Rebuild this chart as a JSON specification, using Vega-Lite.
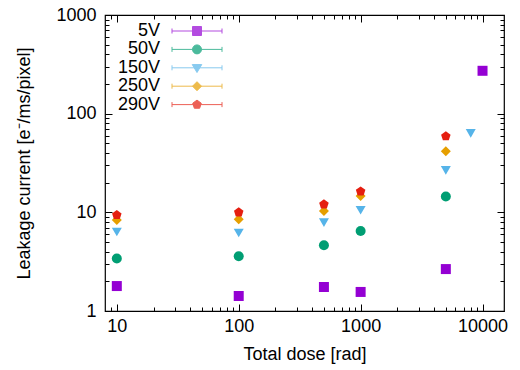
{
  "$schema": "https://vega.github.io/schema/vega-lite/v6.json",
  "autosize": "none",
  "width": 399,
  "height": 296,
  "padding": {"left": 105, "top": 15, "right": 16, "bottom": 59},
  "background": "white",
  "config": {
    "font": "Liberation Sans",
    "view": {"stroke": "black", "strokeWidth": 1.2},
    "axis": {
      "grid": false,
      "domain": false,
      "tickColor": "black",
      "labelColor": "black",
      "titleColor": "black",
      "labelFontSize": 18,
      "titleFontSize": 18,
      "titleFontWeight": "normal",
      "labelFont": "Liberation Sans",
      "titleFont": "Liberation Sans"
    }
  },
  "datasets": {
    "pts": [
      {"dose": 10, "current": 1.79, "bias": "5V"},
      {"dose": 100, "current": 1.42, "bias": "5V"},
      {"dose": 500, "current": 1.75, "bias": "5V"},
      {"dose": 1000, "current": 1.56, "bias": "5V"},
      {"dose": 5000, "current": 2.66, "bias": "5V"},
      {"dose": 10000, "current": 272, "bias": "5V"},
      {"dose": 10, "current": 3.41, "bias": "50V"},
      {"dose": 100, "current": 3.59, "bias": "50V"},
      {"dose": 500, "current": 4.64, "bias": "50V"},
      {"dose": 1000, "current": 6.47, "bias": "50V"},
      {"dose": 5000, "current": 14.5, "bias": "50V"},
      {"dose": 10, "current": 6.32, "bias": "150V"},
      {"dose": 100, "current": 6.18, "bias": "150V"},
      {"dose": 500, "current": 7.87, "bias": "150V"},
      {"dose": 1000, "current": 10.5, "bias": "150V"},
      {"dose": 5000, "current": 26.6, "bias": "150V"},
      {"dose": 8000, "current": 63.2, "bias": "150V"},
      {"dose": 10, "current": 8.36, "bias": "250V"},
      {"dose": 100, "current": 8.5, "bias": "250V"},
      {"dose": 500, "current": 10.3, "bias": "250V"},
      {"dose": 1000, "current": 14.6, "bias": "250V"},
      {"dose": 5000, "current": 41.6, "bias": "250V"},
      {"dose": 10, "current": 9.4, "bias": "290V"},
      {"dose": 100, "current": 10.0, "bias": "290V"},
      {"dose": 500, "current": 12.05, "bias": "290V"},
      {"dose": 1000, "current": 16.3, "bias": "290V"},
      {"dose": 5000, "current": 59, "bias": "290V"}
    ]
  },
  "layer": [
    {
      "data": {"name": "pts"},
      "mark": {"type": "point", "filled": true, "opacity": 1, "size": 100},
      "encoding": {
        "x": {
          "field": "dose", "type": "quantitative",
          "scale": {"type": "log", "domain": [8, 15000], "nice": false},
          "axis": {
            "title": "Total dose [rad]",
            "titlePadding": 7,
            "values": [9, 10, 20, 30, 40, 50, 60, 70, 80, 90, 100, 200, 300, 400, 500, 600, 700, 800, 900, 1000, 2000, 3000, 4000, 5000, 6000, 7000, 8000, 9000, 10000],
            "labelExpr": "indexof([10,100,1000,10000], datum.value) >= 0 ? format(datum.value, 'd') : ''",
            "tickSize": {"condition": {"test": "indexof([10,100,1000,10000], datum.value) >= 0", "value": -7}, "value": -4},
            "labelPadding": 13,
            "labelFlush": false,
            "labelOverlap": false
          }
        },
        "y": {
          "field": "current", "type": "quantitative",
          "scale": {"type": "log", "domain": [1, 1000], "nice": false},
          "axis": {
            "title": "Leakage current [e⁻/ms/pixel]",
            "titlePadding": 22,
            "values": [1, 2, 3, 4, 5, 6, 7, 8, 9, 10, 20, 30, 40, 50, 60, 70, 80, 90, 100, 200, 300, 400, 500, 600, 700, 800, 900, 1000],
            "labelExpr": "indexof([1,10,100,1000], datum.value) >= 0 ? format(datum.value, 'd') : ''",
            "tickSize": {"condition": {"test": "indexof([1,10,100,1000], datum.value) >= 0", "value": -7}, "value": -4},
            "labelPadding": 16,
            "labelFlush": false,
            "labelOverlap": false
          }
        },
        "color": {
          "field": "bias", "type": "nominal", "legend": null,
          "scale": {"domain": ["5V", "50V", "150V", "250V", "290V"], "range": ["#9400d3", "#009e73", "#56b4e9", "#e69f00", "#e51e10"]}
        },
        "shape": {
          "field": "bias", "type": "nominal", "legend": null,
          "scale": {"domain": ["5V", "50V", "150V", "250V", "290V"], "range": ["square", "circle", "triangle-down", "diamond", "M0,-1L0.951,-0.309L0.588,0.809L-0.588,0.809L-0.951,-0.309Z"]}
        }
      }
    },
    {
      "data": {"name": "pts"},
      "transform": [{"filter": "datum.dose < 0"}],
      "mark": {"type": "point", "filled": true, "size": 100, "strokeWidth": 1},
      "encoding": {
        "x": {
          "field": "dose", "type": "quantitative",
          "scale": {"type": "log", "domain": [8, 15000], "nice": false},
          "axis": {
            "orient": "top", "title": null, "labels": false,
            "values": [9, 10, 20, 30, 40, 50, 60, 70, 80, 90, 100, 200, 300, 400, 500, 600, 700, 800, 900, 1000, 2000, 3000, 4000, 5000, 6000, 7000, 8000, 9000, 10000],
            "tickSize": {"condition": {"test": "indexof([10,100,1000,10000], datum.value) >= 0", "value": -7}, "value": -4}
          }
        },
        "y": {
          "field": "current", "type": "quantitative",
          "scale": {"type": "log", "domain": [1, 1000], "nice": false},
          "axis": {
            "orient": "right", "title": null, "labels": false,
            "values": [1, 2, 3, 4, 5, 6, 7, 8, 9, 10, 20, 30, 40, 50, 60, 70, 80, 90, 100, 200, 300, 400, 500, 600, 700, 800, 900, 1000],
            "tickSize": {"condition": {"test": "indexof([1,10,100,1000], datum.value) >= 0", "value": -7}, "value": -4}
          }
        },
        "color": {
          "field": "bias", "type": "nominal",
          "scale": {"domain": ["5V", "50V", "150V", "250V", "290V"], "range": ["#9400d3", "#009e73", "#56b4e9", "#e69f00", "#e51e10"]},
          "legend": {
            "title": null,
            "orient": "none",
            "legendX": 11,
            "legendY": 7,
            "padding": 0,
            "labelFontSize": 18,
            "labelFont": "Liberation Sans",
            "labelColor": "black",
            "labelAlign": "right",
            "symbolOffset": 72,
            "labelOffset": -46,
            "rowPadding": 0.4,
            "symbolStrokeWidth": 1
          }
        },
        "stroke": {
          "field": "bias", "type": "nominal",
          "scale": {"domain": ["5V", "50V", "150V", "250V", "290V"], "range": ["#9400d3", "#009e73", "#56b4e9", "#e69f00", "#e51e10"]},
          "legend": {
            "title": null,
            "orient": "none",
            "legendX": 11,
            "legendY": 7,
            "padding": 0,
            "labelFontSize": 18,
            "labelFont": "Liberation Sans",
            "labelColor": "black",
            "labelAlign": "right",
            "symbolOffset": 72,
            "labelOffset": -46,
            "rowPadding": 0.4,
            "symbolStrokeWidth": 1
          }
        },
        "shape": {
          "field": "bias", "type": "nominal",
          "scale": {"domain": ["5V", "50V", "150V", "250V", "290V"], "range": [
            "M-5,0H5M-5,-0.5V0.5M5,-0.5V0.5M-0.9,-0.9H0.9V0.9H-0.9Z",
            "M-5,0H5M-5,-0.5V0.5M5,-0.5V0.5M-0.9,0A0.9,0.9 0 1,0 0.9,0A0.9,0.9 0 1,0 -0.9,0Z",
            "M-5,0H5M-5,-0.5V0.5M5,-0.5V0.5M-0.95,-0.65H0.95L0,0.95Z",
            "M-5,0H5M-5,-0.5V0.5M5,-0.5V0.5M-0.9,0L0,-0.9L0.9,0L0,0.9Z",
            "M-5,0H5M-5,-0.5V0.5M5,-0.5V0.5M0,-0.9L0.856,-0.278L0.529,0.728L-0.529,0.728L-0.856,-0.278Z"
          ]},
          "legend": {
            "title": null,
            "orient": "none",
            "legendX": 11,
            "legendY": 7,
            "padding": 0,
            "labelFontSize": 18,
            "labelFont": "Liberation Sans",
            "labelColor": "black",
            "labelAlign": "right",
            "symbolOffset": 72,
            "labelOffset": -46,
            "rowPadding": 0.4,
            "symbolStrokeWidth": 1
          }
        }
      }
    }
  ],
  "resolve": {
    "axis": {"x": "independent", "y": "independent"},
    "scale": {"color": "independent", "shape": "independent", "stroke": "independent"}
  }
}
